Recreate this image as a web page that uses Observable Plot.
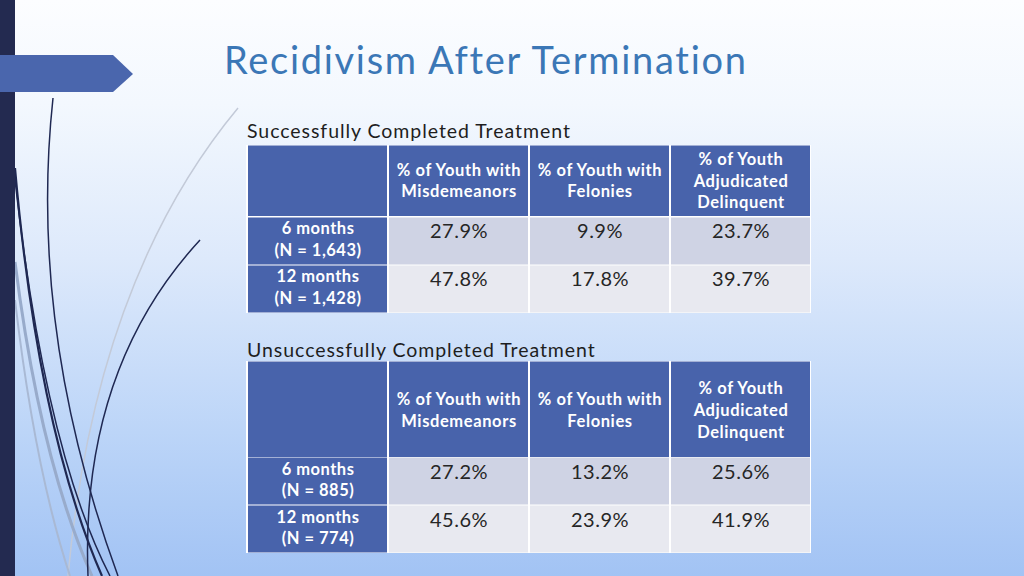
<!DOCTYPE html>
<html>
<head>
<meta charset="utf-8">
<script src="https://cdn.jsdelivr.net/npm/d3@7"></script>
<script src="https://cdn.jsdelivr.net/npm/@observablehq/plot@0.6"></script>
<style>
  html, body { margin: 0; padding: 0; }
  body {
    width: 1024px; height: 576px; overflow: hidden; position: relative;
    font-family: Lato, "Open Sans", sans-serif;
    background: linear-gradient(to bottom, #fcfdff 0%, #f3f8fe 18%, #dde9fb 45%, #bcd5f8 75%, #a2c3f4 100%);
  }
  #deco { position: absolute; left: 0; top: 0; }
  .title { position: absolute; left: 224px; top: 36px; font-size: 38px; color: #3b77b6; white-space: nowrap; letter-spacing: 1.7px; }
  .caption { position: absolute; left: 247px; font-size: 19.5px; color: #1e1e1e; white-space: nowrap; letter-spacing: 0.95px; }
  .tbl { position: absolute; left: 246px; }
  .tbl svg { display: block; }
</style>
</head>
<body>
<svg id="deco" width="1024" height="576">
  <path d="M238,108 Q95,280 68,576" fill="none" stroke="#c3cad8" stroke-width="1.5"/>
  <path d="M15,262 Q40,460 92,576" fill="none" stroke="#98abcb" stroke-width="3"/>
  <path d="M15,300 Q35,470 70,576" fill="none" stroke="#a9b9d4" stroke-width="2"/>
  <path d="M53,98 Q28,330 118,576" fill="none" stroke="#1f2852" stroke-width="1.5"/>
  <path d="M15,168 Q38,430 102,576" fill="none" stroke="#1f2852" stroke-width="2.2"/>
  <path d="M15,180 Q45,450 110,576" fill="none" stroke="#1f2852" stroke-width="1.5"/>
  <path d="M200,240 Q80,370 88,576" fill="none" stroke="#1f2852" stroke-width="1.5"/>
  <rect x="0" y="0" width="15" height="576" fill="#232a50"/>
  <path d="M0,55 L113,55 L133,74 L113,92 L0,92 Z" fill="#4a66ad"/>
</svg>
<div class="title">Recidivism After Termination</div>
<div class="caption" style="top:119px">Successfully Completed Treatment</div>
<div class="caption" style="top:338px">Unsuccessfully Completed Treatment</div>
<div class="tbl" id="t1h" style="top:145px"></div>
<div class="tbl" id="t1b" style="top:216px"></div>
<div class="tbl" id="t2h" style="top:361px"></div>
<div class="tbl" id="t2b" style="top:457px"></div>
<script>
// ---- data ----
const columns = ["Misdemeanors", "Felonies", "Adjudicated"];
const headerLabels = ["% of Youth with\nMisdemeanors", "% of Youth with\nFelonies", "% of Youth\nAdjudicated\nDelinquent"];
const rowKeys = ["6 months", "12 months"];
const successRowLabels = ["6 months\n(N = 1,643)", "12 months\n(N = 1,428)"];
const unsuccessRowLabels = ["6 months\n(N = 885)", "12 months\n(N = 774)"];
const success6 = [27.9, 9.9, 23.7];
const success12 = [47.8, 17.8, 39.7];
const unsuccess6 = [27.2, 13.2, 25.6];
const unsuccess12 = [45.6, 23.9, 41.9];

const BLUE = "#4863ab";
const ROWFILL = ["#cfd3e4", "#e8e9f0"];
const xDomain = ["label", ...columns];
const W = 565;

function header(h, dy) {
  const cells = xDomain.map((c, i) => ({col: c, text: i === 0 ? "" : headerLabels[i - 1]}));
  return Plot.plot({
    width: W, height: h, margin: 0,
    style: {background: "white", fontFamily: "Lato, 'Open Sans', sans-serif", letterSpacing: "0.6px"},
    x: {domain: xDomain, axis: null, padding: 0},
    marks: [
      Plot.cell(cells, {x: "col", fill: BLUE, inset: 0.5, insetLeft: 1, insetRight: 1}),
      Plot.text(cells, {x: "col", text: "text", fill: "white", fontSize: 16.5, fontWeight: "bold", lineHeight: 1.33, frameAnchor: "middle", dy})
    ]
  });
}

function body(h, rowLabels, vals, dyLabel, dyVal) {
  const cells = [];
  rowKeys.forEach((r, ri) => {
    cells.push({row: r, col: "label", fill: BLUE, label: rowLabels[ri]});
    columns.forEach((c, ci) => cells.push({row: r, col: c, fill: ROWFILL[ri], value: vals[ri][ci]}));
  });
  return Plot.plot({
    width: W, height: h, margin: 0,
    style: {background: "white", fontFamily: "Lato, 'Open Sans', sans-serif", letterSpacing: "0.5px"},
    x: {domain: xDomain, axis: null, padding: 0},
    y: {domain: rowKeys, axis: null, padding: 0},
    color: {type: "identity"},
    marks: [
      Plot.cell(cells, {x: "col", y: "row", fill: "fill", inset: 0.5, insetLeft: 1, insetRight: 1}),
      Plot.text(cells.filter(d => d.col === "label"), {x: "col", y: "row", text: "label", fill: "white", fontSize: 16.5, fontWeight: "bold", lineHeight: 1.33, dy: dyLabel}),
      Plot.text(cells.filter(d => d.col !== "label"), {x: "col", y: "row", text: d => d.value.toFixed(1) + "%", fill: "#262626", fontSize: 20, dy: dyVal})
    ]
  });
}

document.getElementById("t1h").append(header(72, -2));
document.getElementById("t1b").append(body(97, successRowLabels, [success6, success12], -3.5, -9.5));
document.getElementById("t2h").append(header(97, -1));
document.getElementById("t2b").append(body(96, unsuccessRowLabels, [unsuccess6, unsuccess12], -3, -9));
</script>
</body>
</html>
